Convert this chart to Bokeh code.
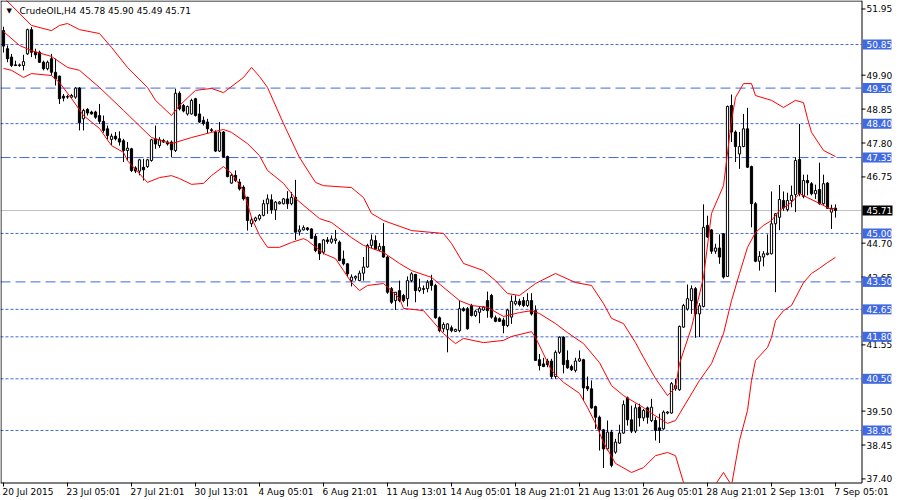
from bokeh.plotting import figure
from bokeh.models import Range1d, ColumnDataSource
from bokeh.core.properties import value
from bokeh.embed import file_html
from bokeh.resources import INLINE

title_text = "CrudeOIL,H4  45.78 45.90 45.49 45.71"

opens = [
    51.28, 50.72, 50.46, 50.22, 50.20, 50.20, 50.56, 51.31, 50.61, 50.61,
    50.30, 50.10, 50.41, 49.99, 49.87, 49.25, 49.22, 49.22, 49.22, 49.50,
    48.55, 48.84, 48.76, 48.76, 48.65, 48.47, 48.24, 47.91, 48.01, 47.93,
    47.87, 47.57, 47.62, 47.03, 46.93, 47.05, 47.07, 47.26, 47.93, 47.72,
    47.88, 47.83, 47.83, 47.57, 49.34, 48.96, 48.70, 48.70, 49.17, 48.70,
    48.50, 48.45, 48.21, 48.14, 47.55, 48.14, 47.38, 46.56, 46.80, 46.59,
    46.43, 46.12, 45.30, 45.40, 45.45, 45.56, 45.92, 46.04, 45.73, 45.92,
    45.92, 46.07, 45.92, 46.12, 45.05, 45.11, 45.17, 45.14, 44.91, 44.68,
    44.42, 44.80, 44.73, 44.78, 44.73, 44.21, 44.06, 43.54, 43.62, 43.54,
    43.77, 43.96, 44.63, 44.78, 44.49, 44.60, 44.27, 43.29, 42.92, 43.23,
    43.08, 42.98, 43.54, 43.73, 43.23, 43.29, 43.29, 43.54, 43.39, 42.39,
    42.05, 42.02, 42.08, 41.97, 41.99, 42.67, 42.67, 42.77, 42.46, 42.56,
    42.63, 42.92, 43.08, 42.39, 42.36, 42.32, 42.15, 42.41, 42.82, 42.90,
    42.92, 42.77, 42.92, 42.61, 41.09, 40.96, 41.05, 41.05, 40.57, 41.32,
    41.79, 41.07, 40.88, 40.76, 41.05, 41.09, 40.26, 40.19, 39.64, 39.31,
    38.92, 38.33, 38.85, 38.23, 38.51, 38.82, 39.91, 39.23, 38.88, 39.62,
    39.29, 39.60, 39.21, 39.21, 38.98, 38.95, 39.44, 39.44, 40.19, 40.16,
    42.10, 42.66, 42.92, 43.29, 42.51, 42.74, 45.25, 45.11, 44.45, 44.55,
    44.99, 43.67, 48.96, 48.14, 47.46, 47.69, 48.24, 47.07, 45.92, 44.14,
    44.27, 44.35, 44.37, 45.30, 45.50, 46.02, 45.74, 46.02, 46.20, 47.29,
    46.15, 46.64, 46.54, 46.23, 46.36, 45.92, 46.56, 45.66, 45.78,
]
highs = [
    51.40, 50.82, 50.56, 50.35, 50.26, 50.53, 51.34, 51.39, 50.72, 50.66,
    50.35, 50.35, 50.56, 50.41, 49.89, 49.32, 49.29, 49.32, 49.53, 49.53,
    48.86, 48.88, 48.80, 48.80, 49.01, 48.65, 48.34, 48.09, 48.14, 48.16,
    47.93, 47.83, 47.65, 47.08, 47.31, 47.31, 47.31, 47.93, 48.34, 47.98,
    47.93, 47.88, 47.88, 49.48, 49.40, 49.01, 48.96, 49.17, 49.20, 49.01,
    48.62, 48.55, 48.26, 48.19, 48.45, 48.17, 47.41, 46.85, 46.95, 46.69,
    46.49, 46.14, 45.50, 45.52, 45.60, 46.04, 46.21, 46.21, 46.00, 46.00,
    46.10, 46.31, 46.28, 46.66, 45.25, 45.25, 45.20, 45.16, 44.99, 44.70,
    44.83, 44.89, 44.94, 45.11, 44.78, 44.47, 44.08, 43.73, 43.70, 43.85,
    44.27, 44.68, 44.97, 44.94, 44.70, 45.32, 44.32, 43.34, 43.18, 43.54,
    43.13, 43.67, 43.80, 43.75, 43.60, 43.39, 43.56, 43.72, 43.44, 42.43,
    42.25, 42.22, 42.15, 42.05, 42.92, 42.72, 42.72, 42.82, 42.63, 42.74,
    42.75, 43.20, 43.13, 42.46, 42.40, 42.39, 42.67, 43.08, 43.08, 42.98,
    43.03, 43.15, 43.15, 42.77, 41.27, 41.15, 41.12, 41.12, 41.38, 41.81,
    41.81, 41.38, 40.94, 41.15, 41.38, 41.12, 40.57, 40.45, 39.67, 39.36,
    38.95, 39.21, 38.92, 38.64, 39.08, 39.83, 39.95, 39.67, 39.73, 39.73,
    39.57, 39.64, 39.88, 39.31, 39.42, 39.52, 39.50, 40.40, 40.50, 42.15,
    42.82, 43.42, 43.39, 43.34, 42.84, 45.90, 45.55, 45.14, 44.68, 44.97,
    45.01, 48.96, 49.30, 48.19, 48.14, 48.70, 48.89, 47.10, 45.97, 44.45,
    44.45, 44.97, 46.30, 45.63, 46.50, 46.30, 46.26, 46.48, 47.36, 48.39,
    46.82, 46.82, 46.59, 46.51, 47.19, 46.82, 46.59, 45.89, 45.90,
]
lows = [
    50.60, 50.30, 50.15, 50.18, 50.16, 50.05, 50.53, 50.46, 50.41, 50.28,
    50.05, 50.05, 49.89, 49.58, 49.01, 49.09, 49.17, 49.17, 49.17, 48.19,
    48.19, 48.65, 48.68, 48.55, 48.39, 48.12, 47.91, 47.74, 47.88, 47.72,
    47.21, 47.26, 46.90, 46.87, 46.80, 46.64, 47.03, 47.22, 47.62, 47.65,
    47.80, 47.72, 47.36, 47.52, 48.81, 48.75, 48.65, 48.68, 48.62, 48.42,
    48.34, 48.11, 48.14, 47.52, 47.52, 47.34, 46.74, 46.54, 46.59, 46.33,
    46.02, 45.09, 45.20, 45.35, 45.40, 45.53, 45.61, 45.61, 45.42, 45.90,
    45.90, 45.76, 45.87, 44.80, 44.94, 45.09, 45.08, 44.83, 44.42, 44.18,
    44.35, 44.68, 44.68, 44.68, 44.14, 44.01, 43.65, 43.36, 43.54, 43.52,
    43.54, 43.94, 44.55, 44.49, 44.45, 44.25, 43.13, 42.82, 42.63, 42.87,
    42.87, 42.74, 43.49, 42.87, 43.18, 43.13, 43.18, 43.23, 42.36, 41.94,
    41.94, 41.32, 41.94, 41.95, 41.94, 42.58, 42.02, 42.43, 42.41, 42.22,
    42.60, 42.39, 42.36, 42.25, 42.26, 41.91, 42.10, 42.20, 42.77, 42.74,
    42.72, 42.72, 42.46, 41.05, 40.76, 40.86, 40.86, 40.50, 40.50, 41.27,
    40.67, 40.81, 40.74, 40.70, 41.02, 39.83, 40.12, 39.57, 38.95, 38.28,
    37.74, 38.28, 37.76, 38.18, 38.49, 38.80, 39.05, 38.82, 38.82, 39.02,
    39.19, 39.11, 39.16, 38.59, 38.51, 38.92, 39.40, 39.42, 40.13, 40.13,
    42.08, 42.61, 42.51, 41.77, 41.79, 42.71, 44.86, 44.37, 44.37, 44.06,
    43.60, 43.65, 47.83, 47.21, 47.00, 47.67, 47.03, 45.19, 44.11, 43.85,
    43.98, 44.32, 44.35, 43.18, 45.10, 45.70, 45.68, 45.81, 45.66, 46.15,
    46.09, 46.18, 46.18, 46.07, 45.89, 45.89, 45.76, 45.14, 45.49,
]
closes = [
    50.80, 50.41, 50.20, 50.20, 50.22, 50.32, 51.31, 50.61, 50.53, 50.30,
    50.10, 50.30, 49.99, 49.79, 49.17, 49.19, 49.24, 49.27, 49.50, 48.43,
    48.81, 48.73, 48.70, 48.60, 48.47, 48.19, 48.03, 48.01, 47.93, 47.83,
    47.57, 47.64, 46.95, 46.93, 47.28, 46.97, 47.28, 47.90, 47.77, 47.90,
    47.83, 47.77, 47.59, 49.34, 48.86, 48.79, 48.93, 49.12, 48.65, 48.45,
    48.40, 48.24, 48.19, 47.55, 48.14, 47.36, 46.76, 46.80, 46.64, 46.38,
    46.07, 45.40, 45.42, 45.48, 45.56, 45.92, 46.07, 45.73, 45.97, 45.97,
    46.07, 45.92, 46.12, 45.04, 45.11, 45.18, 45.12, 44.85, 44.47, 44.37,
    44.80, 44.75, 44.83, 44.83, 44.16, 44.06, 43.75, 43.65, 43.67, 43.77,
    43.96, 44.63, 44.80, 44.52, 44.60, 44.27, 43.18, 42.87, 43.18, 42.92,
    42.92, 43.54, 43.75, 43.23, 43.32, 43.27, 43.49, 43.39, 42.39, 41.99,
    42.18, 42.20, 41.99, 42.03, 42.67, 42.61, 42.05, 42.46, 42.59, 42.67,
    42.72, 42.61, 42.41, 42.28, 42.28, 42.15, 42.63, 42.90, 42.90, 42.80,
    42.77, 42.92, 42.51, 41.07, 40.91, 40.88, 40.94, 40.57, 41.32, 41.79,
    40.94, 40.84, 40.78, 41.05, 41.12, 40.22, 40.19, 39.60, 39.31, 38.92,
    38.33, 38.85, 37.82, 38.54, 38.82, 39.70, 39.23, 38.88, 39.60, 39.29,
    39.52, 39.31, 39.62, 38.90, 38.90, 39.47, 39.47, 40.35, 40.29, 42.12,
    42.77, 42.98, 43.29, 42.51, 42.76, 45.19, 44.89, 44.45, 44.55, 44.27,
    43.65, 48.93, 48.14, 47.69, 47.69, 48.24, 47.05, 45.92, 44.14, 44.29,
    44.37, 44.39, 45.30, 45.61, 46.05, 45.79, 46.02, 46.18, 47.26, 46.23,
    46.64, 46.57, 46.23, 46.33, 45.92, 46.54, 45.78, 45.78, 45.71,
]

# Bollinger bands (20, 2) at bar indices
upper_bars = [0, 7, 12, 14, 16, 19, 24, 27, 31, 36,
              38, 42, 44, 48, 52, 55, 60, 62, 64, 66,
              70, 74, 78, 80, 87, 90, 92, 95, 102, 110,
              112, 115, 120, 123, 126, 129, 133, 138, 143, 147,
              150, 152, 155, 158, 160, 163, 166, 168, 169, 172,
              175, 177, 180, 182, 183, 185, 187, 188, 192, 195,
              198, 200, 201, 202, 205, 208]
upper_vals = [52.31, 51.44, 51.28, 51.44, 51.50, 51.31, 51.19, 50.76, 50.14, 49.52,
              49.12, 48.65, 48.96, 49.43, 49.49, 49.36, 49.83, 50.14, 49.86, 49.52,
              48.40, 47.35, 46.58, 46.48, 46.42, 46.11, 45.62, 45.40, 45.09, 45.00,
              44.69, 44.07, 43.85, 43.54, 43.14, 43.08, 43.45, 43.76, 43.48, 43.39,
              42.83, 42.37, 42.21, 41.62, 41.16, 40.51, 39.98, 40.23, 40.97, 42.09,
              43.64, 45.62, 46.48, 48.50, 49.21, 49.64, 49.64, 49.27, 49.12, 48.90,
              49.12, 49.05, 48.56, 48.13, 47.57, 47.38]
middle_bars = [0, 4, 7, 12, 16, 19, 24, 30, 37, 42,
               47, 52, 55, 57, 61, 64, 66, 70, 73, 79,
               82, 87, 90, 95, 99, 102, 107, 114, 117, 121,
               125, 129, 132, 134, 138, 141, 145, 149, 152, 155,
               160, 162, 166, 168, 174, 177, 180, 182, 184, 186,
               188, 190, 192, 194, 197, 199, 201, 204, 207, 208]
middle_vals = [51.25, 50.82, 50.66, 50.48, 50.14, 50.05, 49.52, 48.81, 47.97, 47.78,
               47.97, 48.13, 48.22, 48.13, 47.78, 47.41, 46.95, 46.55, 46.08, 45.46,
               45.34, 44.87, 44.63, 44.41, 44.07, 43.85, 43.64, 42.92, 42.77, 42.71,
               42.43, 42.55, 42.61, 42.52, 42.21, 41.93, 41.59, 41.00, 40.29, 39.98,
               39.61, 39.43, 39.12, 39.21, 40.45, 40.97, 41.90, 42.92, 43.76, 44.57,
               45.03, 45.25, 45.40, 45.71, 45.96, 46.24, 46.11, 45.93, 45.74, 45.80]
lower_bars = [0, 2, 5, 7, 12, 14, 17, 20, 24, 27,
              30, 31, 36, 39, 42, 44, 47, 50, 52, 55,
              57, 60, 62, 64, 66, 69, 72, 75, 76, 80,
              83, 85, 87, 89, 91, 95, 97, 99, 100, 105,
              110, 113, 115, 120, 125, 127, 132, 133, 137, 140,
              144, 146, 148, 150, 153, 157, 160, 163, 166, 168,
              170, 173, 177, 180, 182, 184, 186, 187, 188,
              191, 192, 193, 195, 197, 200, 202, 204, 206, 208]
lower_vals = [50.11, 50.05, 49.83, 49.95, 49.89, 49.67, 49.18, 48.65, 48.25, 47.72,
              47.51, 47.25, 46.58, 46.73, 46.79, 46.70, 46.52, 46.55, 46.79, 47.07,
              46.86, 46.33, 45.49, 44.94, 44.57, 44.57, 44.72, 44.84, 44.78, 44.38,
              44.22, 43.85, 43.48, 43.23, 43.39, 43.45, 43.23, 42.99, 42.68, 42.61,
              41.90, 41.59, 41.75, 41.62, 41.69, 41.81, 41.96, 41.78, 40.76, 40.39,
              40.05, 39.61, 39.12, 38.53, 37.88, 37.60, 37.75, 38.12, 38.22, 38.12,
              37.29, 36.90, 37.05, 37.60, 37.20, 38.59, 39.52, 40.45, 41.07,
              41.47, 41.78, 42.30, 42.61, 42.77, 43.48, 43.76, 43.92, 44.10, 44.26]

time_tick_bars = [0, 16, 32, 48, 64, 80, 96, 112, 128, 144, 160, 176, 192, 208]
time_tick_labels = ["20 Jul 2015", "23 Jul 05:01", "27 Jul 21:01", "30 Jul 13:01",
                    "4 Aug 05:01", "6 Aug 21:01", "11 Aug 13:01", "14 Aug 05:01",
                    "18 Aug 21:01", "21 Aug 13:01", "26 Aug 05:01", "28 Aug 21:01",
                    "2 Sep 13:01", "7 Sep 05:01"]
price_ticks = [51.95, 49.90, 48.85, 47.80, 46.75, 44.70, 43.65, 41.55, 39.50, 38.45, 37.40]
level_prices = [50.85, 49.50, 48.40, 47.35, 45.00, 43.50, 42.65, 41.80, 40.50, 38.90]
level_styles = ["dot", "dash", "dot", "dashdot", "dot", "dash", "dot", "dot", "dot", "dot"]
current_price = 45.71

# ---- canvas geometry (one frame covering the whole 900 x 500 canvas) ----
W, H = 900, 500
PX = 4.0                    # pixels per bar
PY = 32.3                   # pixels per price unit
X_START = -0.75             # bar value at the left canvas edge
Y_TOP = 52.2122             # price at the top canvas edge
CHART_R, CHART_B = 861, 482 # right / bottom edge of the chart area (px)


def xs(px):
    return X_START + px / PX


def ys(py):
    return Y_TOP - py / PY


BLUE = "#4169E1"
FONT = value("DejaVu Sans")
FS = value("9px")

p = figure(width=W, height=H, output_backend="svg", toolbar_location=None,
           x_range=Range1d(xs(0), xs(W)), y_range=Range1d(ys(H), ys(0)),
           x_axis_location=None, y_axis_location=None,
           min_border=0, min_border_left=0, min_border_right=0,
           min_border_top=0, min_border_bottom=0,
           background_fill_color="white", border_fill_color="white")
p.outline_line_color = None
p.grid.visible = False

# horizontal price levels and current-price line (chart area only)
dash_map = {"dot": "3 2", "dash": "10 5", "dashdot": "10 3 3 3"}
for lv, st in zip(level_prices, level_styles):
    p.segment(x0=[xs(0)], y0=[lv], x1=[xs(CHART_R)], y1=[lv],
              line_color=BLUE, line_width=1, line_dash=dash_map[st])
p.segment(x0=[xs(0)], y0=[current_price], x1=[xs(CHART_R)], y1=[current_price],
          line_color="#C0C0C0", line_width=1)

# candles
n = len(opens)
src = ColumnDataSource(dict(
    x=list(range(n)), h=highs, l=lows,
    top=[max(o, c) for o, c in zip(opens, closes)],
    bottom=[min(o, c) for o, c in zip(opens, closes)],
    fill=["white" if c >= o else "black" for o, c in zip(opens, closes)],
))
p.segment(x0="x", y0="l", x1="x", y1="h", source=src, line_color="black", line_width=1)
p.vbar(x="x", top="top", bottom="bottom", width=0.55, source=src,
       fill_color="fill", line_color="black", line_width=1)

# Bollinger bands
for bars, vals in ((upper_bars, upper_vals), (middle_bars, middle_vals), (lower_bars, lower_vals)):
    p.line(bars, vals, line_color="#FF0000", line_width=1)

# keep the scale strips clean: white backing below and right of the chart area
p.quad(left=[xs(0)], right=[xs(W)], top=[ys(CHART_B)], bottom=[ys(H)],
       fill_color="white", line_color=None)
p.quad(left=[xs(CHART_R)], right=[xs(W)], top=[ys(0)], bottom=[ys(H)],
       fill_color="white", line_color=None)

# chart border
p.segment(x0=[xs(0.5), xs(0), xs(CHART_R + 0.5), xs(0)],
          y0=[ys(0), ys(0.5), ys(0), ys(CHART_B + 0.5)],
          x1=[xs(0.5), xs(CHART_R + 0.5), xs(CHART_R + 0.5), xs(CHART_R + 0.5)],
          y1=[ys(CHART_B + 0.5), ys(0.5), ys(CHART_B + 0.5), ys(CHART_B + 0.5)],
          line_color="black", line_width=1)

# price scale (right)
nt = len(price_ticks)
p.segment(x0=[xs(CHART_R)] * nt, y0=price_ticks, x1=[xs(CHART_R + 4)] * nt, y1=price_ticks,
          line_color="black", line_width=1)
p.text(x=[xs(CHART_R + 5)] * nt, y=price_ticks, text=[f"{t:.2f}" for t in price_ticks],
       text_font=FONT, text_font_size=FS, text_color="black",
       text_align="left", text_baseline="middle")

nl = len(level_prices)
p.rect(x=[xs(CHART_R + 15.5)] * nl, y=level_prices, width=29, height=10,
       width_units="screen", height_units="screen", fill_color=BLUE, line_color=None)
p.text(x=[xs(CHART_R + 5)] * nl, y=level_prices, text=[f"{lv:.2f}" for lv in level_prices],
       text_font=FONT, text_font_size=FS, text_color="white",
       text_align="left", text_baseline="middle")
p.rect(x=[xs(CHART_R + 16)], y=[current_price], width=30, height=10,
       width_units="screen", height_units="screen", fill_color="black", line_color=None)
p.text(x=[xs(CHART_R + 5)], y=[current_price], text=[f"{current_price:.2f}"],
       text_font=FONT, text_font_size=FS, text_color="white",
       text_align="left", text_baseline="middle")

# time scale (bottom)
nx = len(time_tick_bars)
p.segment(x0=time_tick_bars, y0=[ys(CHART_B)] * nx, x1=time_tick_bars, y1=[ys(CHART_B + 4)] * nx,
          line_color="black", line_width=1)
p.text(x=time_tick_bars, y=[ys(491)] * nx, text=time_tick_labels, x_offset=-1,
       text_font=FONT, text_font_size=FS, text_color="black",
       text_align="left", text_baseline="middle")

# header
p.text(x=[xs(6)], y=[ys(10)], text=["\u25BC"], text_font=FONT, text_font_size=value("7px"),
       text_color="black", text_align="left", text_baseline="middle")
p.text(x=[xs(19)], y=[ys(10)], text=[title_text], text_font=FONT, text_font_size=FS,
       text_color="black", text_align="left", text_baseline="middle")

open("out.html", "w").write(file_html(p, INLINE))
